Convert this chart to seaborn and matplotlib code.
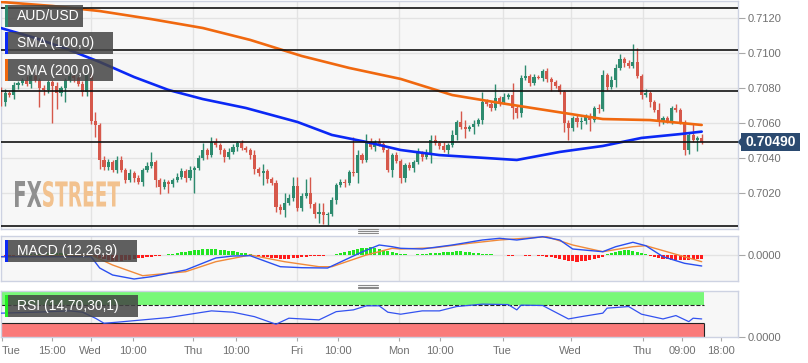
import numpy as np
import matplotlib
matplotlib.use("Agg")
import matplotlib.pyplot as plt
from matplotlib.patches import Rectangle, Polygon, PathPatch
from matplotlib.textpath import TextPath
from matplotlib.font_manager import FontProperties
from matplotlib.transforms import Affine2D
from matplotlib.lines import Line2D
import seaborn as sns

sns.set_theme(style="white")
plt.rcParams["font.family"] = ["Liberation Sans", "DejaVu Sans"]

# ---- data (prices as pips above 0.7000, hourly candles) ----
first_open = 79.3
close_pips = [
    71.8, 77.0, 75.8, 81.5, 82.7, 84.4, 82.1, 86.7, 84.4, 79.8,
    78.7, 83.3, 81.0, 77.0, 79.8, 84.4, 86.7, 85.5, 82.1, 77.5,
    87.3, 61.0, 58.7, 38.7, 34.7, 37.5, 33.0, 38.7, 33.0, 27.3,
    31.3, 28.4, 26.1, 33.0, 35.3, 37.5, 27.3, 23.3, 26.1, 25.0,
    27.3, 29.0, 32.4, 28.4, 33.0, 34.1, 39.8, 44.4, 41.5, 49.0,
    47.3, 44.4, 40.4, 43.3, 46.1, 48.4, 45.5, 44.4, 41.5, 33.5,
    31.3, 32.4, 27.8, 25.5, 11.8, 10.1, 14.1, 17.0, 23.8, 11.3,
    18.1, 19.8, 13.5, 7.8, 9.0, 7.3, 7.8, 15.8, 24.4, 26.1,
    25.5, 31.8, 31.3, 41.5, 38.7, 48.4, 46.1, 49.0, 47.8, 44.4,
    33.0, 41.5, 38.1, 28.4, 35.8, 34.1, 37.5, 42.7, 40.4, 42.7,
    50.1, 48.4, 46.7, 44.4, 47.3, 53.0, 60.4, 57.5, 56.4, 57.5,
    59.3, 61.5, 71.8, 70.7, 68.4, 74.1, 71.8, 74.7, 75.8, 68.4,
    65.5, 85.5, 86.7, 82.7, 86.1, 85.8, 89.5, 85.0, 83.3, 81.0,
    77.5, 59.8, 57.0, 62.7, 60.4, 61.0, 63.8, 61.5, 68.4, 67.8,
    87.3, 80.4, 84.4, 91.3, 96.4, 94.1, 92.4, 94.7, 86.7, 75.8,
    77.0, 71.8, 67.3, 60.4, 62.7, 61.0, 68.4, 67.3, 60.4, 44.4,
    53.0, 50.1, 51.3, 49.0,
]
wick_up = [
    1, 2, 1, 2, 1, 1, 2, 1, 2, 1,
    2, 1, 1, 2, 1, 1, 2, 1, 1, 2,
    2, 1, 5, 1, 2, 2, 1, 2, 2, 1,
    2, 1, 2, 1, 2, 6, 1, 1, 2, 1,
    1, 2, 2, 1, 2, 1, 2, 4, 1, 3,
    2, 1, 1, 2, 2, 1, 2, 1, 1, 3,
    1, 4, 1, 1, 2, 2, 6, 2, 5, 5,
    2, 8, 9, 1, 5, 5, 1, 2, 1, 2,
    2, 1, 20, 3, 1, 5, 3, 1, 2, 1,
    1, 1, 2, 1, 1, 2, 1, 3, 1, 2,
    3, 3, 1, 2, 1, 3, 1, 6, 4, 1,
    2, 1, 6, 2, 1, 8, 1, 2, 1, 7,
    1, 2, 6, 1, 2, 1, 1, 2, 1, 1,
    1, 1, 2, 1, 2, 2, 1, 2, 1, 2,
    3, 1, 2, 2, 3, 1, 2, 10, 8, 1,
    2, 1, 1, 4, 1, 1, 1, 2, 1, 1,
    1, 6, 1, 2,
]
wick_dn = [
    2, 2, 1, 2, 2, 1, 1, 2, 1, 11,
    3, 2, 21, 9, 2, 8, 1, 2, 1, 2,
    2, 2, 7, 5, 2, 2, 1, 2, 1, 2,
    1, 2, 1, 2, 1, 1, 4, 4, 1, 5,
    2, 1, 1, 2, 1, 13, 1, 1, 2, 1,
    1, 2, 3, 1, 1, 2, 1, 1, 2, 3,
    2, 7, 2, 1, 3, 2, 4, 1, 2, 2,
    2, 1, 2, 2, 5, 5, 6, 1, 2, 1,
    2, 1, 2, 6, 2, 1, 1, 2, 1, 1,
    1, 4, 1, 3, 2, 1, 2, 1, 2, 1,
    6, 1, 2, 1, 2, 1, 3, 1, 5, 1,
    4, 1, 2, 1, 2, 1, 2, 1, 1, 6,
    3, 2, 1, 2, 1, 1, 2, 2, 5, 1,
    1, 5, 7, 2, 3, 4, 2, 6, 1, 2,
    1, 2, 1, 4, 1, 2, 1, 1, 1, 2,
    1, 3, 1, 2, 1, 1, 2, 1, 1, 3,
    2, 1, 6, 1,
]

sma100_idx = [0, 8, 16, 23, 31, 39, 47, 57, 69, 77, 85, 93, 102, 113, 120, 130, 140, 149, 158, 163]
sma100_pips = [114.1, 108.4, 101.5, 94.7, 86.1, 78.7, 73.5, 68.4, 60.4, 53.0,
               49.0, 44.4, 41.5, 39.8, 38.7, 43.3, 46.7, 51.3, 53.5, 54.9]
sma200_idx = [0, 12, 23, 35, 47, 58, 70, 81, 93, 105, 116, 128, 140, 151, 163]
sma200_pips = [129.0, 126.7, 123.8, 119.2, 114.1, 107.3, 98.1, 91.3, 85.0, 75.8,
               71.3, 66.7, 62.1, 61.5, 58.7]

levels = [0.71255, 0.71017, 0.70781, 0.70490, 0.70011]
last_price = "0.70490"

# MACD values in units of 1e-5
macd_idx = [0, 21, 23, 26, 31, 35, 43, 50, 54, 58, 62, 65, 70, 76, 79, 84, 88, 91, 93, 98,
            105, 112, 116, 120, 126, 130, 133, 140, 143, 147, 150, 154, 159, 163]
macd_val = [-1.7, -1.7, -13, -20, -24, -21.7, -15, -3, -1, -0.7, -7, -11.7, -12.7, -13, -7, 3,
            10, 8.3, 6.7, 6, 10, 15, 16.7, 15, 18.3, 15, 6, 3.3, 8.3, 12.7, 9.3, -1.7, -8.3, -11]
sig_idx = [0, 21, 26, 33, 43, 50, 58, 66, 74, 77, 85, 91, 93, 101, 109, 116, 127, 133, 140,
           147, 150, 157, 163]
sig_val = [-1.7, 0, -10, -20.7, -16.7, -6.7, 0, -6.7, -11.7, -11.7, 0, 6.7, 6, 7.3, 11.7, 15,
           18.3, 10, 3.3, 8.3, 9.3, 0.7, -6.7]
hist_val = [
    -1, -1, -1, -1, 0, 0, 1, 1, 1,
    1, 1, 2, 2, 2, 2, 1, 1, 1, 1, 0, 0,
    -1, -2, -3, -4, -5, -6, -6, -6, -5, -5, -4, -3,
    -3, -2, -2, -1, -1, 0, 1, 1,
    2, 3, 3, 4, 5, 5, 6, 6, 6, 6, 5, 5, 4, 4, 3, 2, 2, 1, 0, -1,
    -2, -2, -3, -3, -4, -4, -4, -3, -3, -2, -2, -1, -1, -1, -1, 0, 0,
    1, 2, 3, 4, 5, 6, 7, 7, 8, 7, 6, 5, 4, 3,
    2, 1, 1, 0, 0, 1,
    1, 1, 2, 2, 2, 3, 3, 3, 4, 4, 3, 3, 2, 2, 1,
    1, 1, 0, 0, 0, -1, -1, 0, 0, -1, -1, 0, -1, -1, -2, -2,
    -3, -4, -5, -6, -6, -7, -6, -6, -5, -4, -3, -2,
    1, 2, 3, 4, 5, 5, 4, 3, 2,
    1, -1, -2, -3, -4, -4, -5, -5, -5, -5, -5, -4, -4, -4,
]

rsi_idx = [0, 8, 16, 19, 22, 24, 27, 33, 39, 47, 49, 54, 59, 64, 67, 74, 78, 82, 85, 88,
           90, 93, 98, 102, 106, 112, 118, 120, 121, 126, 132, 135, 140, 141, 146, 149, 154,
           157, 160, 161, 163]
rsi_val = [51.7, 53.8, 56.7, 53.8, 40.6, 29.6, 31.8, 36.9, 42, 53.8, 56.7, 53.8, 44, 27.4,
           40.6, 36.9, 55, 58.9, 67.8, 67.8, 53.8, 49.4, 56.7, 56.7, 66.2, 71.5, 70.5, 58.9,
           69.3, 68.5, 39, 44, 51.7, 62.7, 66.2, 49.4, 39, 46.4, 33.1, 40.6, 39]

x_labels = ["Tue", "15:00", "Wed", "10:00", "Thu", "10:00", "Fri", "10:00", "Mon",
            "10:00", "Tue", "Wed", "Thu", "09:00", "18:00"]
x_label_pos = [0.28, 11.9, 20.9, 30.7, 44.7, 54.7, 68.8, 78.4, 92.6, 102.1, 116.7,
               132.5, 149.3, 158.4, 167.5]
day_grid = [20.9, 44.7, 68.8, 92.6, 116.7, 132.5, 149.3]

# ---- styling ----
GREEN, RED = "#2e8b6f", "#d6584b"
BLUE, ORANGE = "#0b28f5", "#f0680f"
BG, GRID, EDGE = "#f7f7f7", "#e3e3e3", "#cdd2e2"
TXT = "#707070"

W, H = 808, 363
fig = plt.figure(figsize=(W / 100, H / 100), dpi=100)
fig.patch.set_facecolor("white")


def fx(px):
    return px / W


def fy(py):
    return 1 - py / H


def px_axes(x0, y0, x1, y1):
    a = fig.add_axes([fx(x0), fy(y1), (x1 - x0) / W, (y1 - y0) / H])
    a.set_facecolor(BG)
    for s in a.spines.values():
        s.set_color(EDGE)
        s.set_linewidth(1)
    a.yaxis.tick_right()
    a.tick_params(axis="y", length=5, width=0.8, color="#a8a8a8", labelcolor=TXT,
                  labelsize=8, pad=2, left=False, right=True)
    a.tick_params(axis="x", length=0, labelbottom=False)
    a.set_xlim(0.05, 171.44)
    for d in day_grid:
        a.axvline(d, color=GRID, lw=1, zorder=0)
    return a


ax = px_axes(1, 1, 738, 229)
ax_m = px_axes(1, 235.7, 738, 281)
ax_r = px_axes(1, 290.7, 738, 336.7)

# ---- main candles ----
n = len(close_pips)
x = np.arange(n)
c = 0.7 + np.array(close_pips) / 1e4
o = 0.7 + np.concatenate([[first_open], close_pips[:-1]]) / 1e4
hi = np.maximum(o, c) + np.array(wick_up) / 1e4
lo = np.minimum(o, c) - np.array(wick_dn) / 1e4
cols = np.where(c >= o, GREEN, RED)

ax.set_ylim(0.699926, 0.712954)
ticks = np.arange(0.7020, 0.71201, 0.0020)
ax.set_yticks(ticks)
ax.set_yticklabels([f"{v:.4f}" for v in ticks])
ax.grid(axis="y", color=GRID, lw=1)
ax.set_axisbelow(True)

ax.vlines(x, lo, hi, colors=cols, lw=1, zorder=3)
ax.bar(x, np.maximum(np.abs(c - o), 0.000012), bottom=np.minimum(o, c), width=0.72,
       color=cols, lw=0, zorder=4)

sns.lineplot(x=sma200_idx, y=0.7 + np.array(sma200_pips) / 1e4, ax=ax, color=ORANGE,
             lw=1.9, legend=False, zorder=5)
sns.lineplot(x=sma100_idx, y=0.7 + np.array(sma100_pips) / 1e4, ax=ax, color=BLUE,
             lw=1.9, legend=False, zorder=5)
for lv in levels:
    ax.axhline(lv, color="#111111", lw=1.2, zorder=6)
ax.set_xlabel("")
ax.set_ylabel("")


# watermark
def stamp(text, x0, y0, x1, y1, color):
    tp = TextPath((0, 0), text, size=100, prop=FontProperties(family="DejaVu Sans", weight="bold"))
    bb = tp.get_extents()
    tr = (Affine2D().translate(-bb.x0, -bb.y0)
          .scale((x1 - x0) / bb.width / W, (y1 - y0) / bb.height / H)
          .translate(fx(x0), fy(y1)) + fig.transFigure)
    ax.add_patch(PathPatch(tp, transform=tr, facecolor=color, lw=0, zorder=1))


stamp("FX", 15, 181, 41.5, 207, "#8f8f8f")
stamp("STREET", 43, 181, 120, 207, "#f2c28f")

# ---- MACD ----
ax_m.set_ylim(-26, 19.3)
ax_m.axhline(0, color=GRID, lw=1, zorder=0)
hv = np.array(hist_val, dtype=float)
ax_m.bar(x, hv, width=0.72, color=np.where(hv >= 0, "#22e622", "#ff1c1c"), lw=0, zorder=2)
sns.lineplot(x=sig_idx, y=sig_val, ax=ax_m, color="#f08a3a", lw=1, legend=False, zorder=3)
sns.lineplot(x=macd_idx, y=macd_val, ax=ax_m, color="#2a4ff0", lw=1, legend=False, zorder=3)
ax_m.set_yticks([0])
ax_m.set_yticklabels(["0.0000"])
ax_m.set_xlabel("")
ax_m.set_ylabel("")

# ---- RSI ----
ax_r.set_ylim(0, 101)
xr0, xr1 = 0.05, n - 0.5
ax_r.add_patch(Rectangle((xr0, 70), xr1 - xr0, 31, facecolor="#78f878", lw=0, zorder=1))
ax_r.add_patch(Rectangle((xr0, 0), xr1 - xr0, 30, facecolor="#fa7a7a", lw=0, zorder=1))
ax_r.hlines(70, xr0, xr1, colors="#222222", lw=0.8, linestyles="--", zorder=2)
ax_r.hlines(30, xr0, xr1, colors="#222222", lw=0.8, zorder=2)
ax_r.vlines([xr0, xr1], [70, 0], [101, 30], colors="#222222", lw=0.8, zorder=2)
sns.lineplot(x=rsi_idx, y=rsi_val, ax=ax_r, color="#3352f0", lw=0.9, legend=False, zorder=3)
ax_r.set_yticks([0])
ax_r.set_yticklabels(["0.0000"])
ax_r.set_xticks(x_label_pos)
ax_r.set_xticklabels(x_labels)
ax_r.tick_params(axis="x", length=3, width=0.8, color="#a8a8a8", labelcolor=TXT,
                 labelsize=8, pad=4, labelbottom=True, bottom=True)
ax_r.get_xticklabels()[0].set_ha("left")
ax_r.set_xlabel("")
ax_r.set_ylabel("")


# ---- overlay labels ----
def label_box(x0, y0, x1, y1, bar_color, text):
    fig.add_artist(Rectangle((fx(x0), fy(y1)), (x1 - x0) / W, (y1 - y0) / H,
                             transform=fig.transFigure, facecolor="#444444", alpha=0.85,
                             lw=0, zorder=5))
    fig.add_artist(Rectangle((fx(x0), fy(y1)), 2.5 / W, (y1 - y0) / H,
                             transform=fig.transFigure, facecolor=bar_color, lw=0, zorder=6))
    fig.text(fx(x0 + 12), fy((y0 + y1) / 2 + 0.5), text, color="white", fontsize=10,
             va="center", ha="left", zorder=7)


label_box(5, 5, 83, 27, GREEN, "AUD/USD")
label_box(5, 32, 113, 54, BLUE, "SMA (100,0)")
label_box(5, 59, 113, 81, ORANGE, "SMA (200,0)")
label_box(5, 240, 137, 262, BLUE, "MACD (12,26,9)")
label_box(5, 294.5, 138, 316.5, "#22ee22", "RSI (14,70,30,1)")

# pane grips
for gy in (231, 286.5):
    for d in (-1.6, 0, 1.6):
        fig.add_artist(Line2D([fx(358), fx(378)], [fy(gy + d)] * 2, color="#8a8a8a",
                              lw=0.8, transform=fig.transFigure))

# last price tag
tag = [(737.7, 142), (741, 138), (741, 133), (800, 133), (800, 151), (741, 151), (741, 146)]
fig.add_artist(Polygon([(fx(a), fy(b)) for a, b in tag], closed=True,
                       transform=fig.transFigure, facecolor="#2b4a70", lw=0, zorder=5))
fig.text(fx(770.5), fy(142.5), last_price, color="white", fontsize=10, fontweight="bold",
         ha="center", va="center", zorder=6)

fig.savefig("out.png", dpi=100, facecolor="white")
